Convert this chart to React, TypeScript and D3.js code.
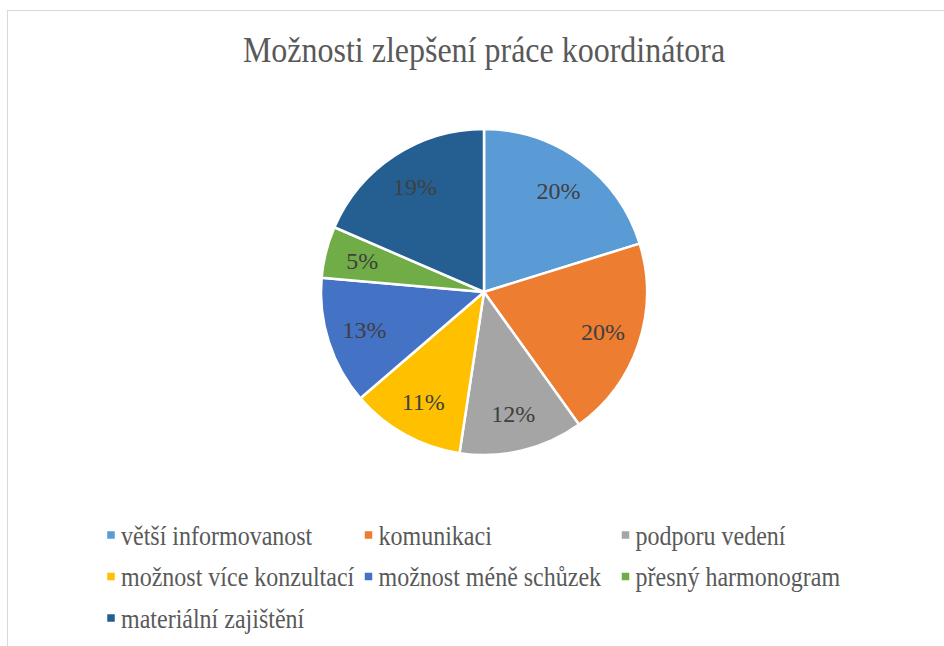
import React from "react";
import * as d3 from "d3";

// Chart data
const categories = [
  "větší informovanost",
  "komunikaci",
  "podporu vedení",
  "možnost více konzultací",
  "možnost méně schůzek",
  "přesný harmonogram",
  "materiální zajištění",
];
const shares = [20.2, 19.9, 12.3, 11.3, 12.7, 5.1, 18.5];
const colors = ["#5b9bd5", "#ed7d31", "#a5a5a5", "#ffc000", "#4472c4", "#70ad47", "#255e91"];
const title = "Možnosti zlepšení práce koordinátora";

const width = 944;
const height = 646;
const cx = 484;
const cy = 292;
const radius = 163;
const font = "Liberation Serif";

// legend grid
const colX = [111, 368.5, 625.5];
const rowY = [535, 576.5, 618];

const App = () => {
  const data = shares.map((v, i) => ({ name: categories[i], value: v, color: colors[i] }));
  const arcs = d3.pie<any>().sort(null).value((d) => d.value)(data);
  const arc = d3.arc<any>().innerRadius(0).outerRadius(radius);
  const labelArc = d3.arc<any>().innerRadius(radius * 0.77).outerRadius(radius * 0.77);

  return (
    <div style={{ position: "absolute", left: 0, top: 0 }}>
      <svg width={width} height={height} style={{ display: "block" }}>
        <rect width={width} height={height} fill="#fff" />
        {/* chart area border, runs off right and bottom */}
        <rect x={7.5} y={10.5} width={width + 20} height={height + 20} fill="none" stroke="#d9d9d9" />

        <text
          transform={`translate(${cx},62) scale(1,1.13)`}
          textAnchor="middle"
          fontFamily={font}
          fontSize={32}
          fill="#595959"
        >
          {title}
        </text>

        <g transform={`translate(${cx},${cy})`}>
          {arcs.map((d, i) => (
            <path key={i} d={arc(d) as string} fill={d.data.color} stroke="#fff" strokeWidth={2.5} strokeLinejoin="round" />
          ))}
          {arcs.map((d, i) => {
            const [x, y] = labelArc.centroid(d);
            return (
              <text key={i} x={x} y={y} dy="0.33em" textAnchor="middle" fontFamily={font} fontSize={24} fill="#404040">
                {`${Math.round(d.data.value)}%`}
              </text>
            );
          })}
        </g>

        {data.map((d, i) => (
          <g key={i} transform={`translate(${colX[i % 3]},${rowY[Math.floor(i / 3)]})`}>
            <rect x={-3.75} y={-3.75} width={7.5} height={7.5} fill={d.color} />
            <text transform="translate(10,9.5) scale(1,1.15)" fontFamily={font} fontSize={24} fill="#595959">
              {d.name}
            </text>
          </g>
        ))}
      </svg>
    </div>
  );
};

export default App;
